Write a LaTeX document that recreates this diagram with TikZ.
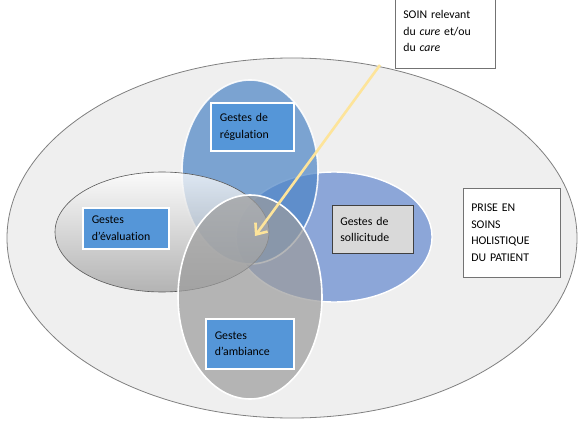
\documentclass[tikz,border=0pt]{standalone}
\usepackage{fontspec}
\setmainfont[Ligatures=NoCommon]{Carlito}
\usetikzlibrary{shapes.geometric,shadows,arrows.meta}
\definecolor{bgell}{HTML}{EFEFEF}
\definecolor{bgline}{HTML}{808080}
\definecolor{regblue}{HTML}{4F86C6}
\definecolor{sollblue}{HTML}{8CA6D8}
\definecolor{boxblue}{HTML}{5596D8}
\definecolor{ambgray}{HTML}{9C9C9C}
\definecolor{arrowyellow}{HTML}{FDE49A}
\tikzset{
  ell/.style={ellipse, inner sep=0pt},
  bluebox/.style={rectangle, fill=boxblue, draw=white, line width=1.6pt, anchor=north west,
    align=left, inner xsep=9pt, drop shadow={opacity=0.35, shadow xshift=1.5pt, shadow yshift=-1.5pt},
    font=\fontsize{11.8}{16.5}\selectfont},
  plainbox/.style={rectangle, anchor=north west, align=left, inner xsep=8pt,
    font=\fontsize{11.8}{16.5}\selectfont},
}
\begin{document}
\begin{tikzpicture}[x=1pt,y=-1pt]
\useasboundingbox (0,0) rectangle (580,422);
\fill[white] (0,0) rectangle (580,422);
% big ellipse
\node[ell, fill=bgell, draw=bgline, line width=0.8pt, minimum width=570pt, minimum height=360pt] (big) at (292,238) {};
% sollicitude ellipse
\node[ell, fill=sollblue, draw=white, line width=1.4pt, minimum width=196pt, minimum height=130pt] (soll) at (334,237) {};
% regulation ellipse
\node[ell, fill=regblue, fill opacity=0.72, draw=white, draw opacity=0.9, line width=1.6pt, minimum width=136pt, minimum height=184pt] (reg) at (250,172) {};
% evaluation ellipse
\node[ell, top color=white, bottom color=gray!75, fill opacity=0.75, draw=black!65, line width=0.6pt, minimum width=214pt, minimum height=120pt] (eval) at (162,232) {};
% ambiance ellipse
\node[ell, fill=ambgray, fill opacity=0.7, draw=white, line width=1.6pt, minimum width=144pt, minimum height=204pt] (amb) at (250,297) {};
% boxes
\node[bluebox, minimum width=83pt, minimum height=48pt, text width=65pt] (regbox) at (210,102) {Gestes de\\régulation};
\node[bluebox, minimum width=86pt, minimum height=41pt, text width=68pt] (evalbox) at (82,207) {Gestes\\d’évaluation};
\node[plainbox, fill=black!15, draw=black!75, line width=0.6pt, minimum width=81pt, minimum height=48pt, text width=65pt] (sollbox) at (332,205) {Gestes de\\sollicitude};
\node[bluebox, minimum width=88pt, minimum height=50pt, text width=70pt] (ambbox) at (205,318) {Gestes\\d’ambiance};
\node[plainbox, fill=white, draw=black!55, line width=0.6pt, minimum width=100pt, minimum height=74pt, text width=84pt] (soin) at (395,-6) {SOIN relevant\\du \textit{cure} et/ou\\du \textit{care}};
\node[plainbox, fill=white, draw=black!55, line width=0.6pt, minimum width=97pt, minimum height=89pt, text width=81pt] (prise) at (463,188) {PRISE EN\\SOINS\\HOLISTIQUE\\DU PATIENT};
% arrow
\coordinate (astart) at (380,65);
\coordinate (aend) at (255,236);
\draw[arrowyellow, line width=2.6pt, -{Straight Barb[length=9pt,width=15pt]}] (astart) -- (aend);
\end{tikzpicture}
\end{document}
